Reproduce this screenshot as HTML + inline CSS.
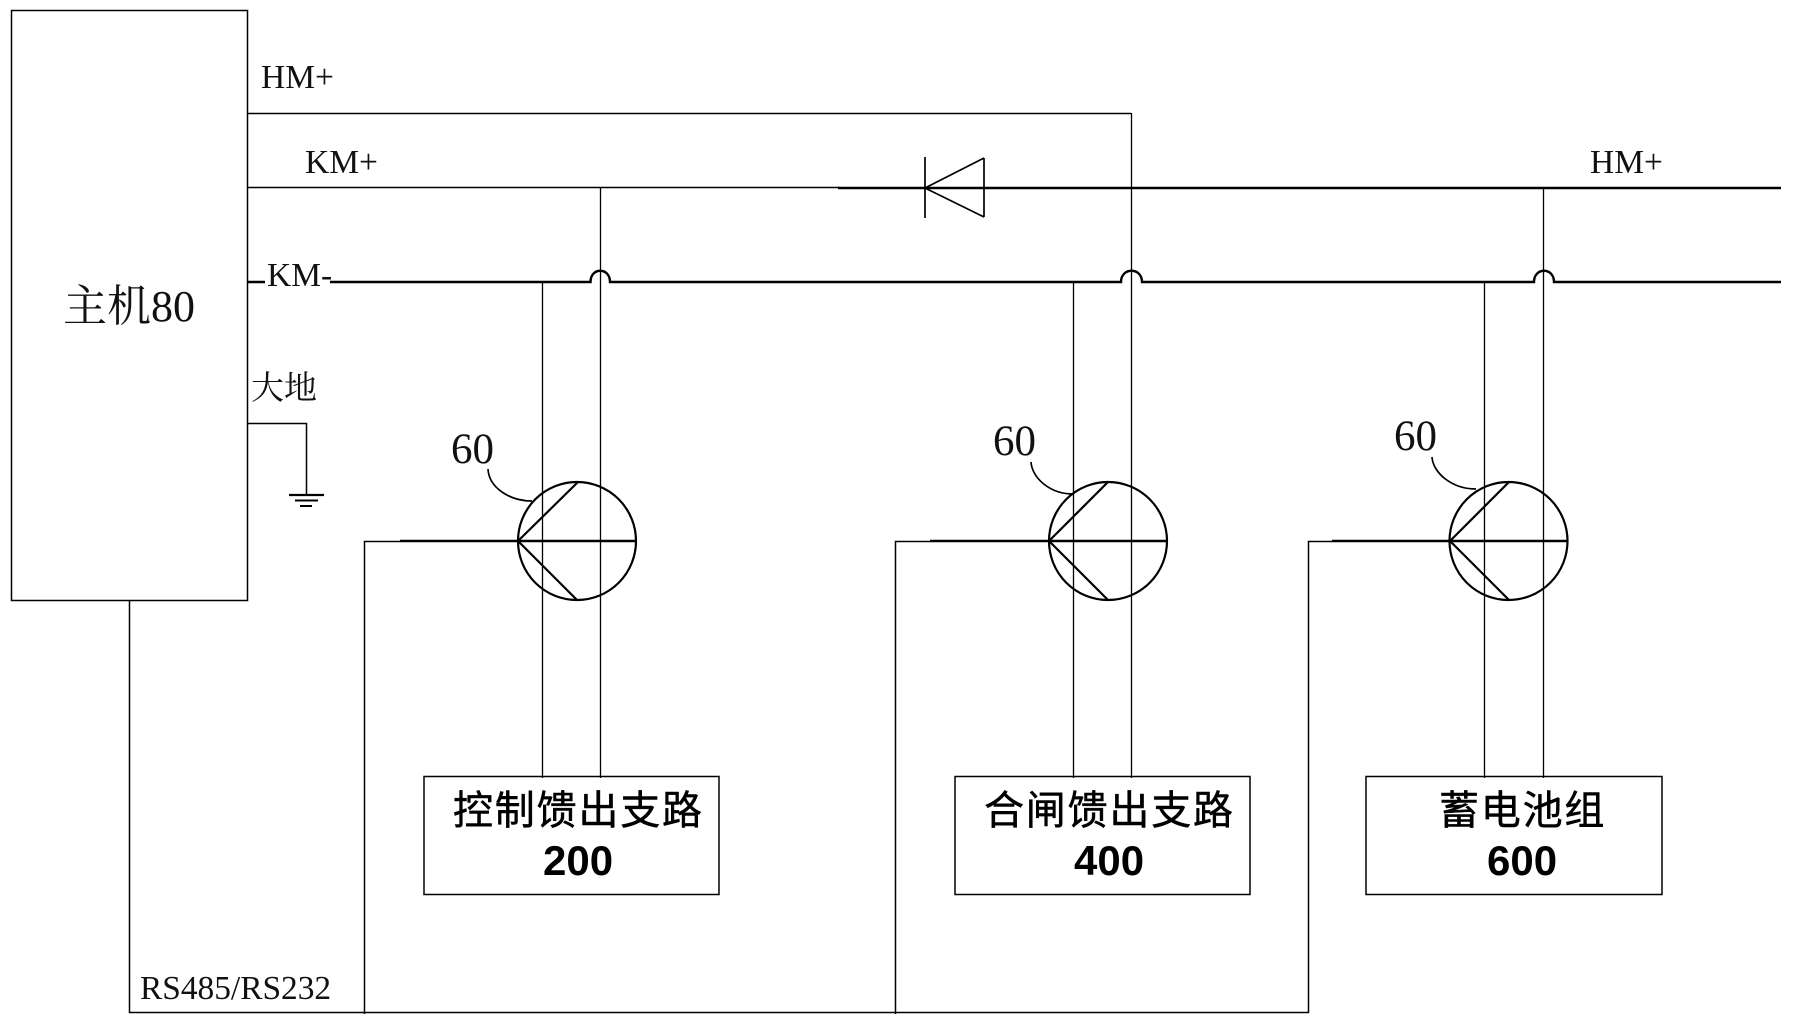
<!DOCTYPE html>
<html><head><meta charset="utf-8"><style>
html,body{margin:0;padding:0;background:#fff}
svg{display:block}
.s{font-family:"Liberation Serif","Noto Serif CJK SC",serif;fill:#111}
.h{font-family:"Liberation Sans","Noto Sans CJK SC",sans-serif;fill:#000;stroke:#000;stroke-width:.5}
.b{font-family:"Liberation Sans",sans-serif;font-weight:bold;font-size:42px;fill:#000}
</style></head><body>
<svg width="1794" height="1027" viewBox="0 0 1794 1027" xmlns="http://www.w3.org/2000/svg">
<rect width="1794" height="1027" fill="#fff"/>
<g fill="none" stroke="#000" stroke-width="1.5">
<rect x="11.5" y="10.5" width="236" height="590"/>
<rect x="424" y="776.5" width="295" height="118"/>
<rect x="955" y="776.5" width="295" height="118"/>
<rect x="1366" y="776.5" width="296" height="118"/>
<path d="M248 113.500H1131"/>
<path d="M248 187.500H840"/>
<path d="M248 423.500H306.500V495"/>
<path d="M129.500 600V1012.500H1309"/>
<path d="M364.500 1014V541.500H400"/>
<path d="M895.500 1014V541.500H930"/>
<path d="M1308.500 1013V541.500H1332"/>
</g>
<g fill="none" stroke="#000" stroke-width="1.3">
<path d="M542.500 282V778M600.500 188V778"/>
<path d="M1073.500 282V778M1131.500 113V778"/>
<path d="M1484.500 282V778M1543.500 188V778"/>
</g>
<g fill="none" stroke="#000" stroke-width="2.4">
<path d="M248 282H265M330 282H590.500C590.500 267 610 267 610 282H1121C1121 267 1142 267 1142 282H1534C1534 267 1554 267 1554 282H1781"/>
<path d="M838 188H1781"/>
<path d="M400 541H518M930 541H1049M1332 541H1450"/>
<path d="M518 541H636M1049 541H1167M1450 541H1567"/>
</g>
<g fill="none" stroke="#000" stroke-width="1.7">
<path d="M925 157V218M984 158V217M925 188L984 158M925 188L984 217"/>
<path d="M289 495H324" stroke-width="2.2"/><path d="M295 500.500H318" stroke-width="2"/><path d="M300 506H312" stroke-width="2"/>
<path d="M488 469C489 488 510 501 532 501"/>
<path d="M1031 462C1032 478 1050 494 1073 494"/>
<path d="M1432 457C1433 473 1452 489 1476 489"/>
</g>
<g fill="none" stroke="#000" stroke-width="2.2">
<circle cx="577" cy="541" r="59"/><path d="M518 541L578 482M518 541L577 600"/>
<circle cx="1108" cy="541" r="59"/><path d="M1049 541L1108 482M1049 541L1108 600"/>
<circle cx="1508.500" cy="541" r="59"/><path d="M1450 541L1509 482M1450 541L1509 600"/>
</g>
<text class="s" x="261" y="88" font-size="33.500">HM+</text>
<text class="s" x="305" y="173" font-size="33.500">KM+</text>
<text class="s" x="267" y="286" font-size="33.500">KM-</text>
<text class="s" x="1590" y="173" font-size="33.500">HM+</text>
<text class="s" x="63" y="321" font-size="44">主机80</text>
<text class="s" x="251" y="399" font-size="33">大地</text>
<text class="s" x="451" y="463" font-size="43">60</text>
<text class="s" x="993" y="455" font-size="43">60</text>
<text class="s" x="1394" y="450" font-size="43">60</text>
<text class="s" x="140" y="999" font-size="33.400">RS485/RS232</text>
<text class="h" x="453" y="824" font-size="40" letter-spacing="1.800">控制馈出支路</text>
<text class="h" x="984" y="824" font-size="40" letter-spacing="1.800">合闸馈出支路</text>
<text class="h" x="1439" y="824" font-size="40" letter-spacing="1.800">蓄电池组</text>
<text class="b" x="543" y="875">200</text>
<text class="b" x="1074" y="875">400</text>
<text class="b" x="1487" y="875">600</text>
</svg>
</body></html>
